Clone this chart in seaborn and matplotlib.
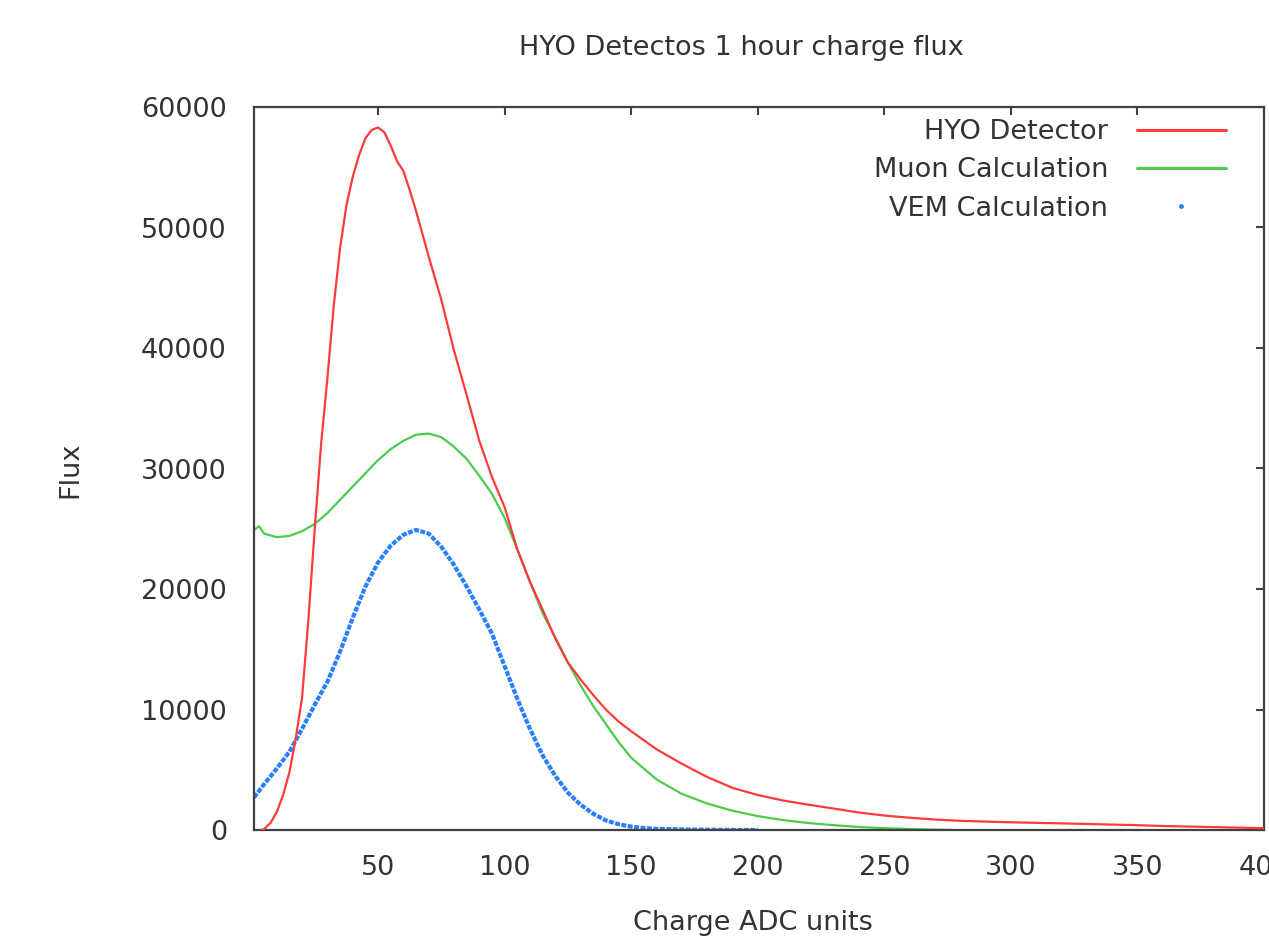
import matplotlib
matplotlib.use("Agg")
import matplotlib.pyplot as plt
from matplotlib.lines import Line2D
import seaborn as sns
import pandas as pd

# ---- data ----
hyo_x = [4, 5, 7.5, 10, 12.5, 15, 17.5, 20, 22.5, 25, 27.5, 30, 32.5, 35, 37.5, 40, 42.5, 45,
         47.5, 50, 52.5, 55, 57.5, 60, 62.5, 65, 67.5, 70, 72.5, 75, 80, 85, 90, 95, 100,
         105, 110, 115, 120, 125, 130, 135, 140, 145, 150, 160, 170, 180, 190, 200, 210,
         220, 230, 240, 250, 260, 270, 280, 290, 300, 320, 340, 350, 360, 380, 400]
hyo_y = [0, 80, 580, 1500, 2900, 4800, 7600, 11000, 17500, 25000, 32000, 37500, 43500,
         48300, 51800, 54200, 56000, 57400, 58100, 58300, 57900, 56800, 55500, 54700, 53100,
         51400, 49500, 47600, 45800, 44000, 39800, 36100, 32300, 29300, 26800, 23300, 20600,
         18300, 15900, 13900, 12500, 11200, 10000, 9000, 8200, 6700, 5500, 4400, 3500, 2900,
         2450, 2100, 1780, 1450, 1200, 1020, 870, 760, 700, 640, 550, 450, 400, 330, 240, 150]

muon_x = [1, 3, 5, 10, 15, 20, 25, 30, 35, 40, 45, 50, 55, 60, 65, 70, 75, 80, 85, 90, 95,
          100, 105, 110, 115, 120, 125, 130, 135, 140, 145, 150, 160, 170, 180, 190, 200,
          210, 220, 230, 240, 250, 260, 270, 277]
muon_y = [24900, 25200, 24600, 24300, 24400, 24800, 25400, 26300, 27400, 28500, 29600,
          30700, 31600, 32300, 32800, 32900, 32600, 31800, 30800, 29400, 27900, 25900,
          23300, 20600, 18000, 16000, 13900, 12000, 10300, 8800, 7300, 6000, 4200, 3000,
          2200, 1600, 1150, 820, 580, 400, 250, 150, 80, 30, 0]

vem_x = [1, 5, 10, 15, 20, 25, 30, 35, 40, 45, 50, 55, 60, 65, 70, 75, 80, 85, 90, 95, 100,
         105, 110, 115, 120, 125, 130, 135, 140, 145, 150, 155, 160, 170, 180, 190, 200]
vem_y = [2700, 3800, 5100, 6500, 8400, 10400, 12300, 14800, 17600, 20200, 22200, 23600,
         24500, 24900, 24600, 23500, 22000, 20200, 18300, 16300, 13600, 10900, 8400, 6200,
         4500, 3100, 2100, 1350, 800, 480, 280, 160, 100, 50, 20, 10, 0]

labels = ["HYO Detector", "Muon Calculation", "VEM Calculation"]
colors = ["#ff3a3a", "#4ccb4c", "#2b80ff"]
title = "HYO Detectos 1 hour charge flux"
xticks = [50, 100, 150, 200, 250, 300, 350, 400]
yticks = [0, 10000, 20000, 30000, 40000, 50000, 60000]

df_hyo = pd.DataFrame({"x": hyo_x, "y": hyo_y})
df_muon = pd.DataFrame({"x": muon_x, "y": muon_y})
df_vem = pd.DataFrame({"x": vem_x, "y": vem_y})

sns.set_style("white")
plt.rcParams["font.family"] = ["DejaVu Sans"]
FS = 19.5
TXT = "#333333"

fig = plt.figure(figsize=(12.69, 9.47), dpi=100)
ax = fig.add_axes([254 / 1269, 117 / 947, 1010 / 1269, 723 / 947])

sns.lineplot(data=df_hyo, x="x", y="y", ax=ax, color=colors[0], linewidth=1.6, zorder=3)
sns.lineplot(data=df_muon, x="x", y="y", ax=ax, color=colors[1], linewidth=1.6, zorder=2)
sns.lineplot(data=df_vem, x="x", y="y", ax=ax, color=colors[2], linewidth=3.0, zorder=2)
ax.lines[-1].set_linestyle((0, (1.2, 0.35)))

ax.set_xlim(1, 400)
ax.set_ylim(0, 60000)
ax.set_xticks(xticks)
ax.set_yticks(yticks)
ax.set_xticklabels([str(t) for t in xticks])
ax.set_yticklabels([str(t) for t in yticks])
ax.tick_params(axis="both", direction="in", length=6, width=1.5, colors="#404040",
               labelsize=FS, labelcolor=TXT, top=True, right=True)
ax.tick_params(axis="x", pad=18)
ax.tick_params(axis="y", pad=19.5)
for s in ax.spines.values():
    s.set_color("#404040")
    s.set_linewidth(1.6)

ax.set_xlabel("Charge ADC units", fontsize=FS, color=TXT)
ax.set_ylabel("Flux", fontsize=FS, color=TXT)
ax.xaxis.set_label_coords(0.494, -0.129)
ax.yaxis.set_label_coords(-0.182, 0.498)
ax.yaxis.label.set_va("center")
ax.xaxis.label.set_va("center")

fig.text(741 / 1269, 1 - 48 / 947, title, fontsize=FS, color=TXT, ha="center", va="center")

handles = [
    Line2D([], [], color=colors[0], linewidth=2.2),
    Line2D([], [], color=colors[1], linewidth=2.2),
    Line2D([], [], color=colors[2], marker="o", markersize=2.5, linestyle="none"),
]
leg = ax.legend(handles, labels, loc="upper right", frameon=False, markerfirst=False,
                fontsize=FS, handlelength=3.3, handletextpad=1.05, labelspacing=0.46,
                borderpad=0, borderaxespad=0,
                bbox_to_anchor=(1226 / 1269, 1 - 119 / 947), bbox_transform=fig.transFigure)
for t in leg.get_texts():
    t.set_color(TXT)

fig.savefig("out.png", dpi=100)
